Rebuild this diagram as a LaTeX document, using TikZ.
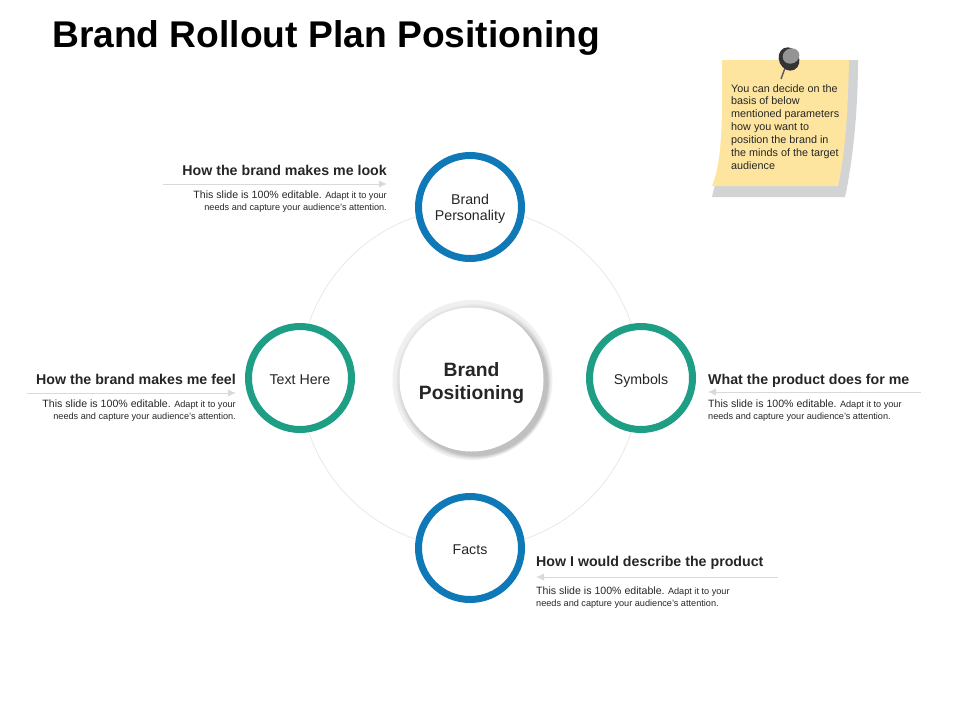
\documentclass[tikz,border=0pt]{standalone}
\usepackage{fontspec}
\usetikzlibrary{arrows.meta}
\setmainfont{Liberation Sans}
\definecolor{ringblue}{HTML}{0F79B8}
\definecolor{ringgreen}{HTML}{1E9E84}
\definecolor{inktext}{HTML}{262626}
\definecolor{paperyellow}{HTML}{FDE59F}
\definecolor{papershade}{HTML}{D2D3D5}
\newcommand{\bodytext}{{\fontsize{10.6}{12}\selectfont This slide is 100\% editable.} Adapt it to your\\needs and capture your audience's attention.}
\tikzset{
  ring/.style={circle, draw=#1, line width=7pt, fill=white, minimum size=103pt, inner sep=0pt,
    align=center, text=inktext, font=\fontsize{14.2}{16}\selectfont, text height=12.8pt, text depth=0pt},
  headtext/.style={inner sep=0pt, text=inktext, font=\fontsize{14.2}{15}\bfseries\selectfont},
  smalltext/.style={inner sep=0pt, text=inktext, font=\fontsize{9.15}{11.5}\selectfont},
  leadline/.style={draw=black!15, line width=.8pt, -{Latex[length=8pt,width=7pt]}}
}
\begin{document}
\begin{tikzpicture}[x=1pt, y=-1pt]
    \def \radius {170pt}
    \useasboundingbox (0,0) rectangle (960,720);
    \node[anchor=west, inner sep=0pt, font=\fontsize{37.2}{40}\bfseries\selectfont] (title) at (52,37.5) {Brand Rollout Plan Positioning};

    % large circle behind the rings
    \draw[black!10, line width=.7pt] (470,378) circle (\radius);

    % centre disc
    \fill[black!6] (472.5,380) circle (80pt);
    \foreach \s in {0,...,11}
      \fill[black, opacity=.014] ({473.5+\s*.2},{381.5+\s*.2}) circle ({77.5-\s*.5});
    \node[circle, fill=white, minimum size=144pt, inner sep=0pt, align=center, text=inktext,
      font=\fontsize{19.3}{23}\bfseries\selectfont, text height=43pt, text depth=4pt] (positioning) at (471.5,379.5) {Brand\\Positioning};

    % the four rings
    \node[ring=ringblue, text height=30pt, text depth=3pt] (personality) at (470,207) {Brand\\Personality};
    \node[ring=ringgreen] (texthere) at (300,378) {Text Here};
    \node[ring=ringgreen] (symbols) at (641,378) {Symbols};
    \node[ring=ringblue] (facts) at (470,548) {Facts};

    % labels, left side
    \node[headtext, anchor=base east] (lookhead) at (387,175) {How the brand makes me look};
    \coordinate (lookstart) at (163,184);
    \coordinate (lookend) at (387,184);
    \draw[leadline] (lookstart) -- (lookend);
    \node[smalltext, anchor=north east, align=right] (lookbody) at (387,191) {\bodytext};

    \node[headtext, anchor=base east] (feelhead) at (236,384) {How the brand makes me feel};
    \coordinate (feelstart) at (27,393);
    \coordinate (feelend) at (236,393);
    \draw[leadline] (feelstart) -- (feelend);
    \node[smalltext, anchor=north east, align=right] (feelbody) at (236,400) {\bodytext};

    % labels, right side
    \node[headtext, anchor=base west] (doeshead) at (708,384) {What the product does for me};
    \coordinate (doesstart) at (921,392);
    \coordinate (doesend) at (708,392);
    \draw[leadline] (doesstart) -- (doesend);
    \node[smalltext, anchor=north west, align=left] (doesbody) at (708,400) {\bodytext};

    \node[headtext, anchor=base west] (describehead) at (536,566) {How I would describe the product};
    \coordinate (describestart) at (778,577);
    \coordinate (describeend) at (536,577);
    \draw[leadline] (describestart) -- (describeend);
    \node[smalltext, anchor=north west, align=left] (describebody) at (536,587) {\bodytext};

    % note with its pin
    \fill[papershade] (740,60) -- (858,60) .. controls (858,110) and (853,160) .. (845,197) -- (712,197) -- (716,180) -- cycle;
    \fill[paperyellow] (722,60) -- (849,60) .. controls (848,105) and (846,150) .. (838,186)
      -- (712,186) .. controls (720,165) and (723,140) .. (722,60) -- cycle;
    \node[anchor=north west, inner sep=0pt, align=left, text=inktext,
      font=\fontsize{10.8}{12.85}\selectfont] (notetext) at (731,84)
      {You can decide on the\\basis of below\\mentioned parameters\\how you want to\\position the brand in\\the minds of the target\\audience};
    \draw[black!65, line width=1.4pt] (785,68) -- (781,79);
    \fill[black!80, rotate around={25:(789,59)}] (789,59) ellipse (10pt and 12pt);
    \fill[black!42, rotate around={25:(791,56)}] (791,56) ellipse (8.5pt and 7.5pt);
\end{tikzpicture}
\end{document}
